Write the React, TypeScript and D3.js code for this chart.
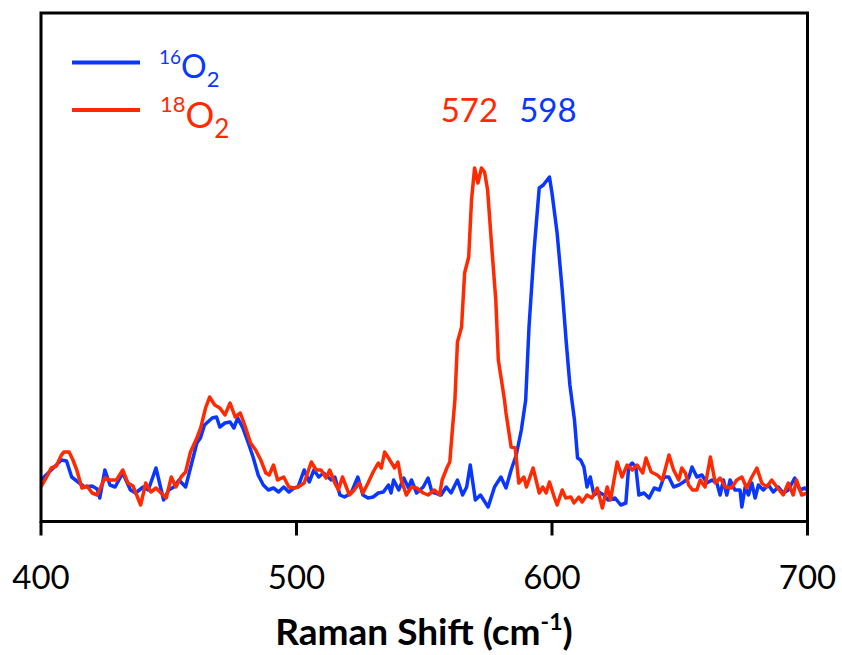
import * as d3 from "d3";

// Raman spectra, intensity in arbitrary units
const blueShift = [
  400, 402, 404, 406, 408, 410, 412, 415, 417, 420, 422, 423, 425, 427, 429, 432, 435, 437, 440, 442,
  445, 448, 450, 452, 454, 456.6, 458.5, 461, 462.4, 464, 467, 468.7, 470, 472, 474, 475.5, 477, 479, 481, 483,
  485, 487, 489, 491, 493, 495, 497, 499, 500.6, 503, 505, 506.8, 508.7, 510.6, 513.6, 515, 517, 518.8, 521.4, 524,
  526, 528, 530, 532, 534, 536, 537, 538, 540, 542, 543.8, 545, 547, 549.6, 551.5, 553, 556.6, 558.6, 560.5, 563,
  565, 566.6, 568, 570, 572, 575, 577.5, 580, 582, 584, 586, 588, 589.7, 591, 593, 595, 596.6, 599, 600, 602,
  604, 605.6, 607, 608.8, 610, 611.2, 612.5, 613.7, 615, 616.4, 618.3, 620.3, 622, 624.7, 626.9, 628.9, 630, 631.4, 632.8, 634,
  636, 638, 640, 642, 643.8, 645.7, 647.6, 649.6, 651.5, 653.5, 654.8, 656.7, 658.7, 660.6, 662.6, 664.5, 665.8, 667.1, 668.4, 669.7,
  671.6, 673.6, 674.3, 675.6, 676.9, 678.2, 679.5, 680.8, 682.7, 684.7, 686.6, 688.6, 690.5, 692.5, 695, 697, 699, 700,
];
const blueIntensity = [
  39, 44, 49, 54, 59, 58, 42, 36, 32, 33, 30, 21, 49, 34, 32, 46, 29, 26, 32, 29,
  51, 19, 29, 32, 39, 32, 51, 76, 81, 94, 101, 102, 92, 96, 97, 91, 101, 91, 77, 62,
  44, 34, 29, 31, 27, 32, 27, 31, 32, 49, 37, 49, 42, 46, 39, 42, 24, 22, 26, 42,
  24, 21, 22, 26, 27, 34, 26, 39, 29, 41, 31, 39, 26, 32, 41, 27, 24, 32, 26, 39,
  24, 32, 54, 19, 24, 12, 32, 42, 31, 49, 64, 89, 119, 192, 269, 331, 334, 342, 326, 286,
  229, 176, 134, 99, 61, 59, 52, 32, 42, 24, 27, 24, 19, 21, 14, 16, 52, 56, 52, 24,
  26, 21, 31, 29, 42, 42, 32, 34, 37, 41, 52, 42, 44, 36, 39, 36, 24, 39, 24, 39,
  29, 29, 12, 32, 24, 36, 21, 34, 29, 34, 27, 32, 26, 29, 41, 29, 31, 29,
];

const redShift = [
  400, 402, 404, 406, 408, 409, 411, 412.5, 414, 416, 418, 420, 422, 425, 427, 429.5, 432, 434, 436, 439,
  441, 443, 445, 447, 449, 451, 452.8, 454.8, 456.6, 458.5, 461, 462.5, 464.4, 466, 468, 470, 472, 474, 476, 478,
  480, 482, 484, 486, 488, 489.3, 491, 492.6, 495, 497, 499, 500.6, 503, 505.8, 507.7, 509.6, 511.6, 513, 515, 516.4,
  518, 520.7, 522.6, 524.6, 526, 528, 530, 532, 533.2, 534.5, 536.5, 538.4, 539.7, 541, 543, 545, 547, 549.6, 551.5, 554,
  556, 557, 559, 560, 561, 562, 563, 564.6, 565.8, 567.4, 568.5, 569.7, 571, 572.4, 573.6, 574.8, 576.3, 578, 579, 580.2,
  581.4, 582, 584, 585.6, 587, 589, 590, 592.6, 595, 596.4, 597.7, 599, 601, 602, 604, 605.4, 607.4, 608.6, 610.5, 611.8,
  613.7, 615.6, 617.7, 619.7, 621.6, 622.9, 625.5, 627.4, 629.4, 631.4, 633.3, 635.5, 636.8, 638.8, 641.2, 643.2, 645.8, 647.6, 649.6, 650.8,
  652.2, 653.5, 655, 656.7, 658, 659.9, 662, 663.9, 665.8, 667.8, 670.3, 672.3, 674.3, 676.2, 678.2, 680.2, 682.1, 684, 686, 688,
  690.5, 692.5, 694.4, 695.7, 697.7, 700,
];
const redIntensity = [
  32, 41, 51, 53, 64, 67, 67, 59, 49, 31, 33, 26, 24, 41, 39, 39, 49, 36, 33, 14,
  36, 27, 31, 26, 21, 42, 32, 42, 47, 67, 81, 91, 111, 122, 114, 111, 104, 116, 102, 106,
  92, 76, 69, 59, 46, 44, 54, 39, 42, 32, 31, 32, 36, 57, 49, 49, 41, 49, 36, 29,
  42, 24, 29, 36, 26, 36, 47, 56, 51, 67, 59, 51, 57, 39, 24, 32, 31, 26, 24, 29,
  24, 39, 52, 57, 89, 119, 177, 192, 246, 262, 319, 351, 336, 351, 347, 329, 276, 219, 159, 139,
  119, 106, 72, 71, 36, 42, 32, 51, 26, 32, 26, 37, 21, 14, 29, 21, 22, 16, 22, 17,
  24, 21, 31, 11, 32, 19, 57, 42, 54, 49, 54, 46, 61, 47, 44, 39, 64, 49, 39, 51,
  46, 34, 29, 29, 39, 32, 62, 36, 41, 32, 31, 39, 42, 31, 42, 51, 36, 32, 39, 32,
  24, 36, 24, 39, 24, 26,
];

const xTicks = [400, 500, 600, 700];
const BLUE = "#0a37ff";
const RED = "#ff2a00";
const FONT = "Lato, 'Open Sans', sans-serif";

export default function App() {
  const W = 842;
  const H = 655;
  const left = 41, right = 807.5, top = 13, bottom = 521.5;

  const x = d3.scaleLinear().domain([400, 700]).range([left, right]);
  const y = d3.scaleLinear().domain([0, 506]).range([519, top]);

  const line = d3
    .line<[number, number]>()
    .x((d) => x(d[0]))
    .y((d) => y(d[1]));

  const blue = blueShift.map((s, i) => [s, blueIntensity[i]] as [number, number]);
  const red = redShift.map((s, i) => [s, redIntensity[i]] as [number, number]);

  return (
    <svg
      width={W}
      height={H}
      style={{ position: "absolute", left: 0, top: 0, display: "block", background: "#fff" }}
      fontFamily={FONT}
    >
      {/* spectra */}
      <path d={line(blue) ?? ""} fill="none" stroke={BLUE} strokeWidth={3.5} strokeLinejoin="round" />
      <path d={line(red) ?? ""} fill="none" stroke={RED} strokeWidth={3.5} strokeLinejoin="round" />

      {/* frame */}
      <rect x={left} y={top} width={right - left} height={bottom - top} fill="none" stroke="#000" strokeWidth={3} />

      {/* x ticks */}
      {xTicks.map((t) => (
        <g key={t}>
          <line x1={x(t)} x2={x(t)} y1={bottom} y2={bottom + 14} stroke="#000" strokeWidth={3} />
          <text x={x(t)} y={589} textAnchor="middle" fontSize={33} fill="#000">
            {t}
          </text>
        </g>
      ))}

      <text x={424} y={645} textAnchor="middle" fontSize={37} fontWeight="bold" fill="#000">
        Raman Shift (cm
        <tspan fontSize={23} dy={-15}>-1</tspan>
        <tspan dy={15}>)</tspan>
      </text>

      {/* legend */}
      <line x1={72} x2={140} y1={62.5} y2={62.5} stroke={BLUE} strokeWidth={4} />
      <text x={159} y={78} fill={BLUE} fontSize={32}>
        <tspan fontSize={19} dy={-14}>16</tspan>
        <tspan dy={14}>O</tspan>
        <tspan fontSize={22} dy={9}>2</tspan>
      </text>
      <line x1={72} x2={140} y1={110} y2={110} stroke={RED} strokeWidth={4} />
      <text x={160} y={128} fill={RED} fontSize={36}>
        <tspan fontSize={22} dy={-16}>18</tspan>
        <tspan dy={16}>O</tspan>
        <tspan fontSize={26} dy={10}>2</tspan>
      </text>

      {/* peak labels */}
      <text x={x(572) - 11} y={122} textAnchor="middle" fontSize={33} fill={RED}>
        572
      </text>
      <text x={x(598) + 1} y={122} textAnchor="middle" fontSize={33} fill={BLUE}>
        598
      </text>
    </svg>
  );
}
